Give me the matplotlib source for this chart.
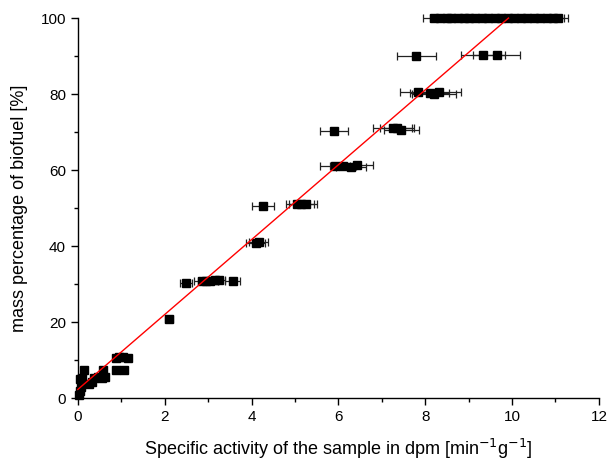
import matplotlib
matplotlib.use("Agg")
import matplotlib.pyplot as plt
from matplotlib.ticker import MultipleLocator
import numpy as np

plt.rcParams['font.family'] = ['Liberation Sans', 'DejaVu Sans']

# Data: specific activity (x), x error, mass percentage (y)
x_low = [0.03, 0.05, 0.08, 0.06, 0.10, 0.15, 0.25, 0.32, 0.38, 0.46, 0.55, 0.58, 0.62,
         0.87, 0.95, 1.05, 1.15, 0.87, 1.07]
y_low = [0.8, 1.8, 3.0, 5.0, 5.3, 7.4, 3.6, 4.2, 5.2, 5.6, 5.3, 7.3, 5.5,
         10.6, 10.8, 10.8, 10.7, 7.3, 7.5]
e_low = [0.03] * len(x_low)

x_20 = [2.10]
y_20 = [20.8]
e_20 = [0.10]

x_30 = [2.49, 2.85, 2.95, 3.05, 3.15, 3.25, 3.57]
y_30 = [30.3, 30.8, 30.7, 30.9, 31.0, 31.2, 30.8]
e_30 = [0.13, 0.18, 0.18, 0.18, 0.15, 0.14, 0.17]

x_40 = [4.10, 4.17]
y_40 = [40.8, 41.0]
e_40 = [0.22, 0.22]

x_50 = [4.26, 5.05, 5.15, 5.25]
y_50 = [50.5, 51.0, 51.0, 51.2]
e_50 = [0.25, 0.25, 0.28, 0.25]

x_60 = [5.92, 6.11, 6.29, 6.43]
y_60 = [61.0, 61.2, 60.8, 61.3]
e_60 = [0.35, 0.30, 0.35, 0.37]

x_70 = [5.90, 7.25, 7.35, 7.45]
y_70 = [70.3, 71.0, 71.2, 70.6]
e_70 = [0.33, 0.45, 0.40, 0.40]

x_80 = [7.83, 8.10, 8.20, 8.32]
y_80 = [80.5, 80.3, 80.0, 80.5]
e_80 = [0.40, 0.45, 0.50, 0.50]

x_90 = [7.79, 9.33, 9.65]
y_90 = [90.0, 90.3, 90.2]
e_90 = [0.45, 0.50, 0.54]

x_100 = [8.20, 8.35, 8.50, 8.60, 8.75, 8.90, 9.00, 9.15, 9.30, 9.45, 9.60, 9.75, 9.90,
         10.05, 10.20, 10.35, 10.50, 10.65, 10.80, 10.95, 11.05]
y_100 = [100.0] * len(x_100)
e_100 = [0.25] * len(x_100)

# linear fit line
fit_intercept = 2.3
fit_slope = 9.85

xs = x_low + x_20 + x_30 + x_40 + x_50 + x_60 + x_70 + x_80 + x_90 + x_100
ys = y_low + y_20 + y_30 + y_40 + y_50 + y_60 + y_70 + y_80 + y_90 + y_100
es = e_low + e_20 + e_30 + e_40 + e_50 + e_60 + e_70 + e_80 + e_90 + e_100

fig = plt.figure(figsize=(6.08, 4.63), dpi=100)
ax = fig.add_axes([0.128, 0.140, 0.857, 0.821])

ax.errorbar(xs, ys, xerr=es, fmt='s', color='black', ms=5.5, mec='black', mfc='black',
            ecolor='#222222', elinewidth=0.9, capsize=3.2, capthick=0.9,
            clip_on=False, zorder=3)

xl = np.array([0.0, (100 - fit_intercept) / fit_slope])
ax.plot(xl, fit_intercept + fit_slope * xl, color='red', lw=1.0, zorder=4, clip_on=False)

ax.set_xlim(0, 12)
ax.set_ylim(0, 100)
ax.xaxis.set_major_locator(MultipleLocator(2))
ax.xaxis.set_minor_locator(MultipleLocator(1))
ax.yaxis.set_major_locator(MultipleLocator(20))
ax.yaxis.set_minor_locator(MultipleLocator(10))
ax.spines['top'].set_visible(False)
ax.spines['right'].set_visible(False)
for s in ('left', 'bottom'):
    ax.spines[s].set_linewidth(1.0)
ax.tick_params(which='major', direction='out', length=5, width=1.0, labelsize=11)
ax.tick_params(which='minor', direction='out', length=3, width=1.0)

ax.set_xlabel('Specific activity of the sample in dpm [min$^{-1}$g$^{-1}$]', fontsize=13, labelpad=9)
ax.set_ylabel('mass percentage of biofuel [%]', fontsize=13, labelpad=9)

fig.savefig('out.png', dpi=100)
